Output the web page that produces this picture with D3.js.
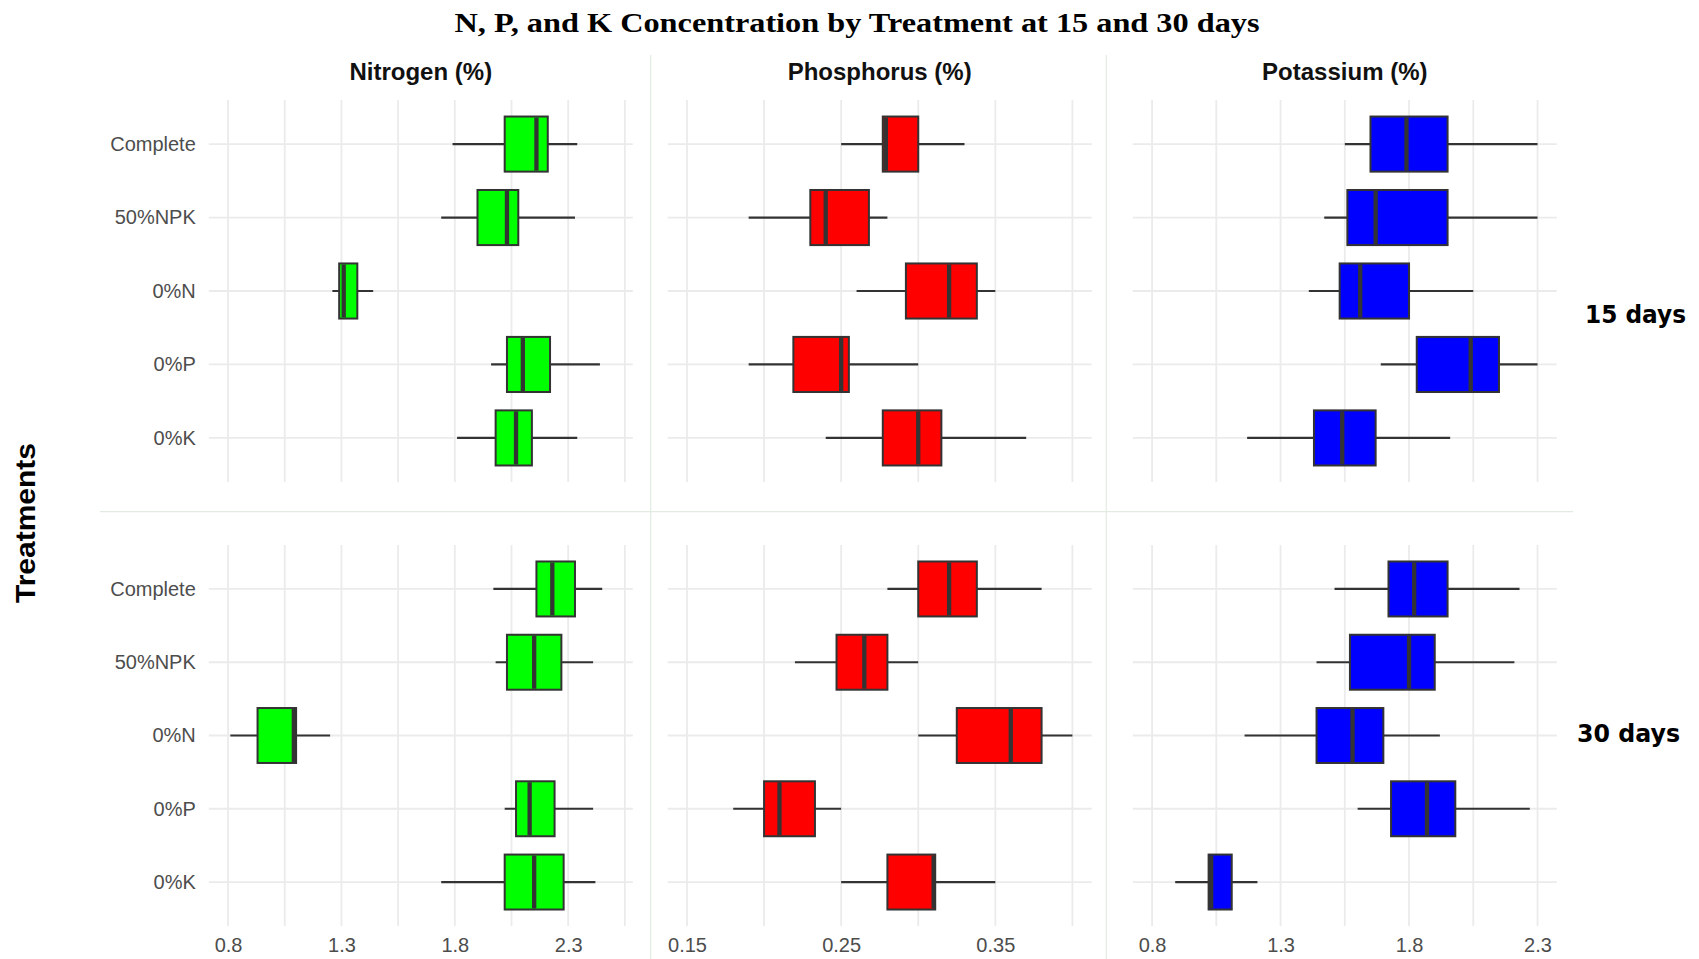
<!DOCTYPE html>
<html>
<head>
<meta charset="utf-8">
<script src="https://cdn.jsdelivr.net/npm/d3@7"></script>
<style>
  body { margin: 0; background: #fff; }
  svg { display: block; }
</style>
</head>
<body>
<svg width="1699" height="959"></svg>
<script>
const WIDTH = 1699
const HEIGHT = 959

const treatments = ['Complete', '50%NPK', '0%N', '0%P', '0%K']
const nutrients = ['Nitrogen (%)', 'Phosphorus (%)', 'Potassium (%)']
const days = ['15 days', '30 days']

// [lower whisker, q1, median, q3, upper whisker] per treatment
const nitrogen15 = [[1.79, 2.02, 2.16, 2.21, 2.34], [1.74, 1.90, 2.03, 2.08, 2.33], [1.26, 1.29, 1.31, 1.37, 1.44], [1.96, 2.03, 2.10, 2.22, 2.44], [1.81, 1.98, 2.07, 2.14, 2.34]]
const nitrogen30 = [[1.97, 2.16, 2.23, 2.33, 2.45], [1.98, 2.03, 2.15, 2.27, 2.41], [0.81, 0.93, 1.09, 1.10, 1.25], [2.02, 2.07, 2.13, 2.24, 2.41], [1.74, 2.02, 2.15, 2.28, 2.42]]
const phosphorus15 = [[0.250, 0.277, 0.279, 0.300, 0.330], [0.190, 0.230, 0.240, 0.268, 0.280], [0.260, 0.292, 0.320, 0.338, 0.350], [0.190, 0.219, 0.250, 0.255, 0.300], [0.240, 0.277, 0.300, 0.315, 0.370]]
const phosphorus30 = [[0.280, 0.300, 0.320, 0.338, 0.380], [0.220, 0.247, 0.265, 0.280, 0.300], [0.300, 0.325, 0.360, 0.380, 0.400], [0.180, 0.200, 0.210, 0.233, 0.250], [0.250, 0.280, 0.310, 0.311, 0.350]]
const potassium15 = [[1.55, 1.65, 1.79, 1.95, 2.30], [1.47, 1.56, 1.67, 1.95, 2.30], [1.41, 1.53, 1.61, 1.80, 2.05], [1.69, 1.83, 2.04, 2.15, 2.30], [1.17, 1.43, 1.54, 1.67, 1.96]]
const potassium30 = [[1.51, 1.72, 1.82, 1.95, 2.23], [1.44, 1.57, 1.80, 1.90, 2.21], [1.16, 1.44, 1.58, 1.70, 1.92], [1.60, 1.73, 1.87, 1.98, 2.27], [0.89, 1.02, 1.03, 1.11, 1.21]]

const xLimits = [[0.8, 2.5], [0.15, 0.40], [0.8, 2.3]]
const xTicks = [[0.8, 1.3, 1.8, 2.3], [0.15, 0.25, 0.35], [0.8, 1.3, 1.8, 2.3]]
const xMinor = [[1.05, 1.55, 2.05, 2.55], [0.20, 0.30, 0.40], [1.05, 1.55, 2.05]]
const fills = ['#00ff00', '#ff0000', '#0000ff']

const stats = [[nitrogen15, phosphorus15, potassium15], [nitrogen30, phosphorus30, potassium30]]

// layout
const colX = [[208.8, 632.8], [667.7, 1091.7], [1132.8, 1556.8]]
const rowY = [[100, 482], [545, 926]]
const GRID = '#ebebeb'
const INK = '#333333'

const svg = d3.select('svg')

svg.append('text')
    .attr('x', 857).attr('y', 32)
    .attr('text-anchor', 'middle')
    .attr('font-family', 'Liberation Serif, Times New Roman, serif')
    .attr('font-weight', 'bold')
    .attr('font-size', 28)
    .attr('textLength', 805)
    .attr('lengthAdjust', 'spacingAndGlyphs')
    .text('N, P, and K Concentration by Treatment at 15 and 30 days')

// faint separators between the panels
const sep = svg.append('g').attr('stroke', '#e2ebe2').attr('stroke-width', 1.2)
sep.append('line').attr('x1', 650.7).attr('x2', 650.7).attr('y1', 55).attr('y2', HEIGHT)
sep.append('line').attr('x1', 1106.3).attr('x2', 1106.3).attr('y1', 55).attr('y2', HEIGHT)
sep.append('line').attr('x1', 100).attr('x2', 1573).attr('y1', 511.7).attr('y2', 511.7)

nutrients.forEach((name, c) => {
    svg.append('text')
        .attr('x', (colX[c][0] + colX[c][1]) / 2).attr('y', 72)
        .attr('dy', '0.35em')
        .attr('text-anchor', 'middle')
        .attr('font-family', 'Liberation Sans, Arial, sans-serif')
        .attr('font-weight', 'bold')
        .attr('font-size', 24)
        .attr('fill', '#111')
        .text(name)
})

days.forEach((day, r) => {
    const y = d3.scalePoint().domain(treatments).range(rowY[r]).padding(0.6)
    const boxH = y.step() * 0.75

    nutrients.forEach((name, c) => {
        const [lo, hi] = xLimits[c]
        const pad = (hi - lo) * 0.05
        const x = d3.scaleLinear().domain([lo - pad, hi + pad]).range(colX[c])

        const g = svg.append('g')

        g.append('g')
            .attr('stroke', GRID)
            .attr('stroke-width', 1.8)
            .selectAll('line')
            .data(xTicks[c].concat(xMinor[c]))
            .enter().append('line')
            .attr('x1', d => x(d)).attr('x2', d => x(d))
            .attr('y1', rowY[r][0]).attr('y2', rowY[r][1])

        g.append('g')
            .attr('stroke', GRID)
            .attr('stroke-width', 1.8)
            .selectAll('line')
            .data(treatments)
            .enter().append('line')
            .attr('x1', colX[c][0]).attr('x2', colX[c][1])
            .attr('y1', d => y(d)).attr('y2', d => y(d))

        const rows = stats[r][c].map((s, i) => ({ t: treatments[i], s: s }))

        const box = g.append('g')
            .selectAll('g')
            .data(rows)
            .enter().append('g')

        box.append('line')
            .attr('stroke', INK).attr('stroke-width', 2.2)
            .attr('x1', d => x(d.s[0])).attr('x2', d => x(d.s[4]))
            .attr('y1', d => y(d.t)).attr('y2', d => y(d.t))

        box.append('rect')
            .attr('fill', fills[c])
            .attr('stroke', INK).attr('stroke-width', 2)
            .attr('x', d => x(d.s[1]))
            .attr('width', d => x(d.s[3]) - x(d.s[1]))
            .attr('y', d => y(d.t) - boxH / 2)
            .attr('height', boxH)

        box.append('line')
            .attr('stroke', INK).attr('stroke-width', 4.3)
            .attr('x1', d => x(d.s[2])).attr('x2', d => x(d.s[2]))
            .attr('y1', d => y(d.t) - boxH / 2 + 1).attr('y2', d => y(d.t) + boxH / 2 - 1)

        if (c === 0) {
            const ya = g.append('g')
                .attr('transform', `translate(${colX[0][0] - 13},0)`)
                .call(d3.axisLeft(y).tickSize(0).tickPadding(0))
            ya.select('.domain').remove()
            ya.selectAll('text')
                .attr('font-family', 'Liberation Sans, Arial, sans-serif')
                .attr('font-size', 20)
                .attr('fill', '#4d4d4d')
        }

        if (r === 1) {
            const xa = g.append('g')
                .attr('transform', `translate(0,${rowY[1][1] + 12})`)
                .call(d3.axisBottom(x).tickValues(xTicks[c]).tickFormat(d3.format('')).tickSize(0).tickPadding(0))
            xa.select('.domain').remove()
            xa.selectAll('text')
                .attr('font-family', 'Liberation Sans, Arial, sans-serif')
                .attr('font-size', 20)
                .attr('fill', '#4d4d4d')
        }
    })
})

svg.append('text')
    .attr('x', 1635.5).attr('y', 323)
    .attr('text-anchor', 'middle')
    .attr('font-family', 'DejaVu Sans, Verdana, sans-serif')
    .attr('font-weight', 'bold')
    .attr('font-size', 24)
    .attr('textLength', 101)
    .attr('lengthAdjust', 'spacingAndGlyphs')
    .text(days[0])

svg.append('text')
    .attr('x', 1628.5).attr('y', 742)
    .attr('text-anchor', 'middle')
    .attr('font-family', 'DejaVu Sans, Verdana, sans-serif')
    .attr('font-weight', 'bold')
    .attr('font-size', 24)
    .attr('textLength', 103)
    .attr('lengthAdjust', 'spacingAndGlyphs')
    .text(days[1])

svg.append('text')
    .attr('transform', 'translate(35,523) rotate(-90)')
    .attr('text-anchor', 'middle')
    .attr('font-family', 'Liberation Sans, Arial, sans-serif')
    .attr('font-weight', 'bold')
    .attr('font-size', 28)
    .attr('textLength', 160)
    .attr('lengthAdjust', 'spacingAndGlyphs')
    .text('Treatments')
</script>
</body>
</html>
